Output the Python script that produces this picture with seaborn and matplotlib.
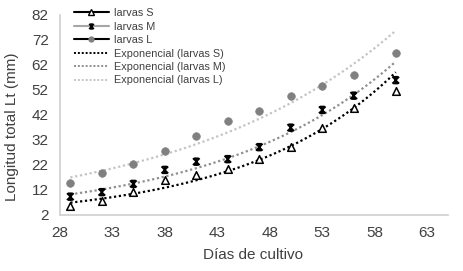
import numpy as np
import pandas as pd
import matplotlib
matplotlib.use("Agg")
import matplotlib.pyplot as plt
from matplotlib.path import Path
from matplotlib.lines import Line2D
import seaborn as sns

# days of culture and total length (mm) for each larva size group
dias = [29, 32, 35, 38, 41, 44, 47, 50, 53, 56, 60]
larvas_s = [5.6, 7.7, 11.1, 16.0, 18.0, 20.3, 24.3, 29.1, 36.7, 44.7, 51.7]
larvas_m = [9.3, 11.1, 14.4, 20.0, 23.3, 24.3, 29.1, 36.9, 44.0, 49.7, 55.9]
larvas_l = [14.7, 18.7, 22.3, 27.6, 33.6, 39.7, 43.7, 49.7, 53.6, 58.1, 66.9]

x_ticks = [28, 33, 38, 43, 48, 53, 58, 63]
y_ticks = [2, 12, 22, 32, 42, 52, 62, 72, 82]

sns.set_style("white")
plt.rcParams["font.family"] = ["Liberation Sans", "DejaVu Sans"]

df = pd.DataFrame({"dias": dias, "S": larvas_s, "M": larvas_m, "L": larvas_l})

# excel-like star marker (asterisk with caps)
star = Path([(-1, -1), (1, 1), (-1, 1), (1, -1), (-0.7, 1), (0.7, 1), (-0.7, -1), (0.7, -1),
             (0, -1), (0, 1)],
            [Path.MOVETO, Path.LINETO] * 5)

fig, ax = plt.subplots(figsize=(4.64, 2.71), dpi=100)
fig.subplots_adjust(left=0.129, right=0.966, bottom=0.207, top=0.945)

# exponential trendlines (fit on log, like excel)
xx = np.linspace(min(dias), max(dias), 100)
trend_cols = {"S": "#000000", "M": "#8f8f8f", "L": "#c4c4c4"}
for key in ["L", "M", "S"]:
    b, a = np.polyfit(df["dias"], np.log(df[key]), 1)
    sns.lineplot(x=xx, y=np.exp(a) * np.exp(b * xx), ax=ax, color=trend_cols[key],
                 linestyle=(0, (1, 1.2)), linewidth=1.6, zorder=2)

sns.scatterplot(data=df, x="dias", y="L", ax=ax, marker="o", s=30, color="#808080",
                edgecolor="#808080", linewidth=0.5, zorder=3)
sns.scatterplot(data=df, x="dias", y="M", ax=ax, marker=star, s=24, facecolors="none",
                edgecolor="black", linewidth=1.2, zorder=4)
sns.scatterplot(data=df, x="dias", y="S", ax=ax, marker="^", s=30, color="white",
                edgecolor="black", linewidth=1.1, zorder=4)

ax.set_xlim(28, 65)
ax.set_ylim(2, 82)
ax.set_xticks(x_ticks)
ax.set_yticks(y_ticks)
ax.tick_params(axis="both", labelsize=11, colors="#404040", length=0, pad=8)
ax.set_xlabel("Días de cultivo", fontsize=11, color="#404040")
ax.set_ylabel("Longitud total Lt (mm)", fontsize=11, color="#404040")
ax.xaxis.set_label_coords(0.497, -0.165)
ax.yaxis.set_label_coords(-0.104, 0.44)

sns.despine(ax=ax)
for sp in ["left", "bottom"]:
    ax.spines[sp].set_color("#d0d0d0")
    ax.spines[sp].set_linewidth(1.2)

handles = [
    Line2D([], [], color="black", lw=1.5, marker="^", markersize=4, mfc="white", mec="black"),
    Line2D([], [], color="#a6a6a6", lw=1.5, marker=star, markersize=3.5, mfc="none", mec="black", mew=1.1),
    Line2D([], [], color="black", lw=1.5, marker="o", markersize=3.5, mfc="#808080", mec="#808080"),
    Line2D([], [], color="#000000", lw=1.4, linestyle=(0, (1, 1))),
    Line2D([], [], color="#8f8f8f", lw=1.4, linestyle=(0, (1, 1))),
    Line2D([], [], color="#c4c4c4", lw=1.4, linestyle=(0, (1, 1))),
]
labels = ["larvas S", "larvas M", "larvas L",
          "Exponencial (larvas S)", "Exponencial (larvas M)", "Exponencial (larvas L)"]
leg = ax.legend(handles, labels, loc="upper left", bbox_to_anchor=(0.147, 0.99),
                bbox_transform=fig.transFigure, frameon=False, fontsize=7.8,
                handlelength=3.3, handletextpad=0.4, labelspacing=0.32, borderpad=0)
for t in leg.get_texts():
    t.set_color("#404040")

fig.savefig("out.png", dpi=100)
